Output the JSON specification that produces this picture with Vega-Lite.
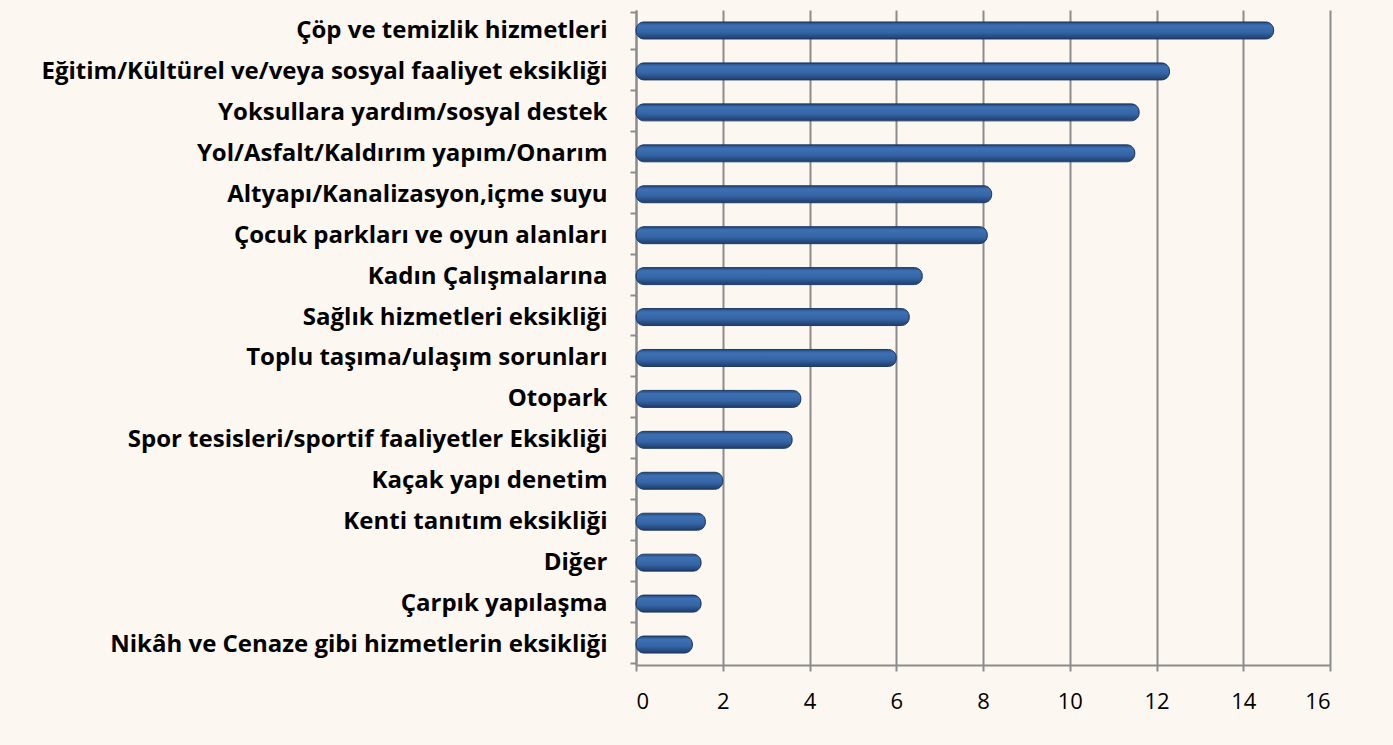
{
  "$schema": "https://vega.github.io/schema/vega-lite/v6.json",
  "width": 694,
  "height": 655,
  "autosize": "none",
  "padding": {"left": 636, "top": 10, "right": 63, "bottom": 80},
  "background": "#fdf7f1",
  "config": {"view": {"stroke": null}},
  "data": {"values": [
    {"kategori": "Çöp ve temizlik hizmetleri", "deger": 14.7},
    {"kategori": "Eğitim/Kültürel ve/veya sosyal faaliyet eksikliği", "deger": 12.3},
    {"kategori": "Yoksullara yardım/sosyal destek", "deger": 11.6},
    {"kategori": "Yol/Asfalt/Kaldırım yapım/Onarım", "deger": 11.5},
    {"kategori": "Altyapı/Kanalizasyon,içme suyu", "deger": 8.2},
    {"kategori": "Çocuk parkları ve oyun alanları", "deger": 8.1},
    {"kategori": "Kadın Çalışmalarına", "deger": 6.6},
    {"kategori": "Sağlık hizmetleri eksikliği", "deger": 6.3},
    {"kategori": "Toplu taşıma/ulaşım sorunları", "deger": 6.0},
    {"kategori": "Otopark", "deger": 3.8},
    {"kategori": "Spor tesisleri/sportif faaliyetler Eksikliği", "deger": 3.6},
    {"kategori": "Kaçak yapı denetim", "deger": 2.0},
    {"kategori": "Kenti tanıtım eksikliği", "deger": 1.6},
    {"kategori": "Diğer", "deger": 1.5},
    {"kategori": "Çarpık yapılaşma", "deger": 1.5},
    {"kategori": "Nikâh ve Cenaze gibi hizmetlerin eksikliği", "deger": 1.3}
  ]},
  "mark": {
    "type": "bar",
    "height": 17,
    "cornerRadius": 8,
    "stroke": "#1c3a66",
    "strokeWidth": 1,
    "color": {
      "gradient": "linear", "x1": 0, "y1": 0, "x2": 0, "y2": 1,
      "stops": [
        {"offset": 0, "color": "#24487c"},
        {"offset": 0.2, "color": "#3d70b3"},
        {"offset": 0.6, "color": "#3565a6"},
        {"offset": 1, "color": "#1f3d6b"}
      ]
    }
  },
  "encoding": {
    "y": {
      "field": "kategori", "type": "nominal", "sort": null,
      "axis": {
        "title": null,
        "domainColor": "#8c8c8c", "domainWidth": 2,
        "tickColor": "#8c8c8c", "tickWidth": 2, "tickSize": 6, "tickBand": "extent",
        "labelFont": "Open Sans", "labelFontWeight": "bold", "labelFontSize": 24,
        "labelColor": "#000000", "labelPadding": 23, "labelLimit": 700
      }
    },
    "x": {
      "field": "deger", "type": "quantitative",
      "scale": {"domain": [0, 16], "nice": false},
      "axis": {
        "title": null, "values": [0, 2, 4, 6, 8, 10, 12, 14, 16],
        "grid": true, "gridColor": "#8c8c8c", "gridWidth": 2,
        "domainColor": "#8c8c8c", "domainWidth": 2,
        "tickColor": "#8c8c8c", "tickWidth": 2, "tickSize": 6,
        "labelFont": "Open Sans", "labelFontSize": 22, "labelColor": "#000000",
        "labelPadding": 20
      }
    }
  }
}
